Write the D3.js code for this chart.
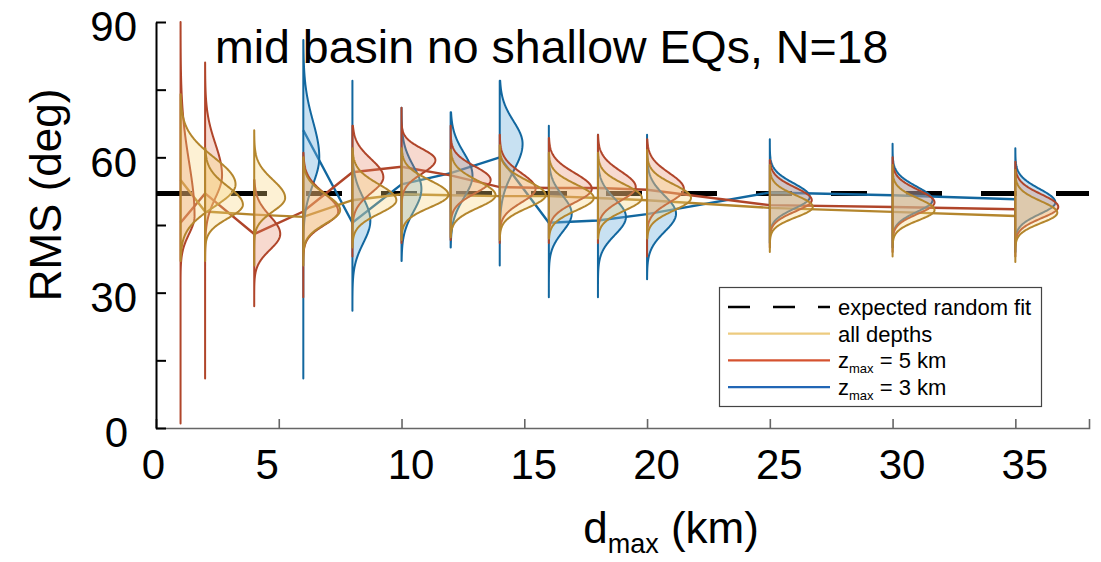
<!DOCTYPE html>
<html lang="en">
<head>
<meta charset="UTF-8">
<title>RMS vs dmax</title>
<script src="https://d3js.org/d3.v7.min.js"></script>
<style>
  body { margin: 0; background: #fff; }
  svg text { font-family: 'Liberation Sans', Arial, Helvetica, sans-serif; fill: #000; }
</style>
</head>
<body>
<svg id="chart" width="1101" height="562"></svg>
<script>
// distance cut-offs (km)
const dmax = [1, 2, 4, 6, 8, 10, 12, 14, 16, 18, 20, 25, 30, 35];
const dmaxShallow = [6, 8, 10, 12, 14, 16, 18, 20, 25, 30, 35];

const xTicks = [0, 5, 10, 15, 20, 25, 30, 35];
const yTicks = [0, 15, 30, 45, 60, 75, 90];
const yLabels = [0, 30, 60, 90];
const randomFit = 52;

// connecting lines (deg)
const lineAll = [55, 48, 47.3, 46.8, 50.5, 51.8, 51.6, 51.4, 51.4, 51, 50.5, 48.8, 47.9, 47];
const line5 = [45.5, 52, 43, 48, 56.7, 57.9, 56, 53.4, 53.2, 53.2, 52.8, 49.4, 49, 48.5];
const line3 = [66, 45.5, 54, 56.5, 60, 45.5, 46, 47.4, 52.2, 51.6, 50.7];

// violins: [lo, hi, mode, spread up, spread down, half width (km)]
const violinAll = [
  [37, 74, 54, 6, 5, 2.24],
  [37, 62, 49.5, 4, 3, 1.54],
  [36, 66, 51, 4, 3, 1.26],
  [36, 60, 48.3, 3.5, 3, 1.5],
  [40, 62, 50.5, 3.5, 3, 1.79],
  [41.7, 62, 51.7, 3.2, 2.8, 1.91],
  [42.3, 61.6, 51.6, 3.2, 2.8, 1.83],
  [41.7, 62.7, 51.6, 3.2, 2.8, 1.87],
  [42, 61, 51, 3, 2.8, 1.83],
  [42, 61, 51, 3, 2.8, 1.79],
  [42, 61.6, 51, 3, 2.8, 1.79],
  [39, 58.3, 49, 2.6, 2.3, 1.75],
  [38, 58.3, 48.3, 2.6, 2.3, 1.71],
  [36.8, 57.2, 47.7, 2.6, 2.3, 1.71]
];
const violin5 = [
  [1, 90, 47, 12, 4, 0.57],
  [11, 81, 56, 7, 5, 0.69],
  [27, 55, 43, 4, 3.5, 1.06],
  [29, 61, 48, 4, 3, 1.42],
  [38, 67, 55.6, 4, 3.5, 1.26],
  [41, 71, 59.4, 2.5, 3, 1.38],
  [41.7, 67, 55, 3, 3, 1.63],
  [41, 65, 53, 3.5, 3, 1.46],
  [41, 64.3, 53, 3.5, 3, 1.75],
  [41, 65, 53.4, 3.5, 3, 1.54],
  [38, 64, 53, 3.5, 3, 1.5],
  [40, 59.4, 50.5, 2.8, 2.5, 1.71],
  [39, 60, 50, 2.8, 2.5, 1.71],
  [38, 59, 49, 2.8, 2.5, 1.75]
];
const violin3 = [
  [11, 86, 60, 8, 6, 0.65],
  [26, 77, 46, 5, 5, 0.73],
  [37, 71, 53, 5, 5, 0.81],
  [40, 70, 56, 5, 5, 0.89],
  [36, 77, 63, 5, 6, 0.93],
  [29, 67, 47.5, 4, 4, 0.93],
  [29, 65, 46.8, 4, 4, 1.14],
  [33, 65, 47.5, 4, 4, 1.18],
  [41, 64, 51.2, 3, 2.6, 1.63],
  [40, 63, 50.5, 3, 2.6, 1.63],
  [39, 62, 50, 3, 2.6, 1.63]
];

const svg = d3.select("#chart");
const margin = { left: 156, right: 12, top: 22, bottom: 134 };
const W = 1101, H = 562;

const x = d3.scaleLinear().domain([0, 38]).range([margin.left, W - margin.right]);
const y = d3.scaleLinear().domain([0, 90]).range([H - margin.bottom, margin.top]);

const series = [
  { name: "3", xs: dmaxShallow, line: line3, vio: violin3, stroke: "#12679f", fill: "rgba(110,175,220,0.38)", legend: "#2166b5" },
  { name: "5", xs: dmax, line: line5, vio: violin5, stroke: "#b0452a", fill: "rgba(228,128,96,0.30)", legend: "#d5522f" },
  { name: "all", xs: dmax, line: lineAll, vio: violinAll, stroke: "#b4862d", fill: "rgba(250,210,120,0.32)", legend: "#edcb7f" }
];

// expected random fit
svg.append("line")
  .attr("x1", x(0)).attr("x2", x(38))
  .attr("y1", y(randomFit)).attr("y2", y(randomFit))
  .attr("stroke", "#000").attr("stroke-width", 5)
  .attr("stroke-dasharray", "36,39");

// connecting lines
const lineGen = d3.line().x(d => x(d[0])).y(d => y(d[1]));
series.forEach(s => {
  svg.append("path")
    .attr("d", lineGen(s.xs.map((d, i) => [d, s.line[i]])))
    .attr("fill", "none")
    .attr("stroke", s.stroke)
    .attr("stroke-width", 2.4);
});

// half violins
function violinPath(d, v) {
  const [lo, hi, mode, up, dn, w] = v;
  const pts = [[x(d), y(lo)]];
  d3.range(lo, hi, 0.2).concat([hi]).forEach(r => {
    const sd = r >= mode ? up : dn;
    const dens = Math.exp(-0.5 * Math.pow((r - mode) / sd, 2));
    pts.push([x(d + w * dens), y(r)]);
  });
  pts.push([x(d), y(hi)]);
  return d3.line()(pts) + "Z";
}

series.forEach(s => {
  svg.append("g").selectAll("path")
    .data(s.xs.map((d, i) => [d, s.vio[i]]))
    .join("path")
    .attr("d", d => violinPath(d[0], d[1]))
    .attr("fill", s.fill)
    .attr("stroke", s.stroke)
    .attr("stroke-width", 2)
    .attr("stroke-linejoin", "round");
});

// axes
const xAxis = svg.append("g")
  .attr("transform", `translate(0,${y(0)})`)
  .call(d3.axisBottom(x).tickValues(xTicks).tickSizeInner(-9).tickSizeOuter(-9).tickPadding(21));
xAxis.select(".domain").attr("stroke", "#666").attr("stroke-width", 1.6);
xAxis.selectAll(".tick line").attr("stroke", "#666").attr("stroke-width", 1.6);
xAxis.selectAll("text")
  .attr("font-size", 42)
  .attr("dx", d => d === 0 ? -3 : d === 5 ? -12 : 9)
  .style("font-family", "'Liberation Sans', Arial, sans-serif");

const yAxis = svg.append("g")
  .attr("transform", `translate(${x(0)},0)`)
  .call(d3.axisLeft(y).tickValues(yTicks).tickSizeInner(-10).tickSizeOuter(0).tickPadding(19)
    .tickFormat(d => yLabels.includes(d) ? d : ""));
yAxis.select(".domain").attr("stroke", "#000").attr("stroke-width", 2);
yAxis.selectAll(".tick line").attr("stroke", "#000").attr("stroke-width", 2);
yAxis.selectAll("text")
  .attr("font-size", 42)
  .attr("dy", "0.45em")
  .attr("dx", d => d === 0 ? -9 : 0)
  .style("font-family", "'Liberation Sans', Arial, sans-serif");

// axis titles
svg.append("text")
  .attr("transform", "translate(61,195) rotate(-90)")
  .attr("text-anchor", "middle")
  .attr("font-size", 44)
  .text("RMS (deg)");

const xt = svg.append("text")
  .attr("x", 671).attr("y", 543)
  .attr("text-anchor", "middle")
  .attr("font-size", 44);
xt.append("tspan").text("d");
xt.append("tspan").attr("font-size", 27).attr("dy", 10).text("max");
xt.append("tspan").attr("dy", -10).text(" (km)");

// title
svg.append("text")
  .attr("x", 215).attr("y", 63)
  .attr("font-size", 46.5)
  .text("mid basin no shallow EQs, N=18");

// legend
const lg = svg.append("g");
lg.append("rect")
  .attr("x", 719.5).attr("y", 287.5).attr("width", 322).attr("height", 119)
  .attr("fill", "#fff").attr("stroke", "#444").attr("stroke-width", 1.2);

const legendRows = [
  { label: "expected random fit", color: "#000", dash: "22,23" },
  { label: "all depths", color: series[2].legend },
  { label: ["z", "max", " = 5 km"], color: series[1].legend },
  { label: ["z", "max", " = 3 km"], color: series[0].legend }
];
legendRows.forEach((r, i) => {
  const yy = 307 + i * 26.7;
  lg.append("line")
    .attr("x1", 728).attr("x2", 830).attr("y1", yy).attr("y2", yy)
    .attr("stroke", r.color).attr("stroke-width", r.dash ? 2.5 : 2.2)
    .attr("stroke-dasharray", r.dash || null);
  const t = lg.append("text").attr("x", 838).attr("y", yy + 8).attr("font-size", 22).attr("fill", "#222");
  if (typeof r.label === "string") {
    t.text(r.label);
  } else {
    t.append("tspan").text(r.label[0]);
    t.append("tspan").attr("font-size", 13).attr("dy", 5).text(r.label[1]);
    t.append("tspan").attr("dy", -5).text(r.label[2]);
  }
});
</script>
</body>
</html>
